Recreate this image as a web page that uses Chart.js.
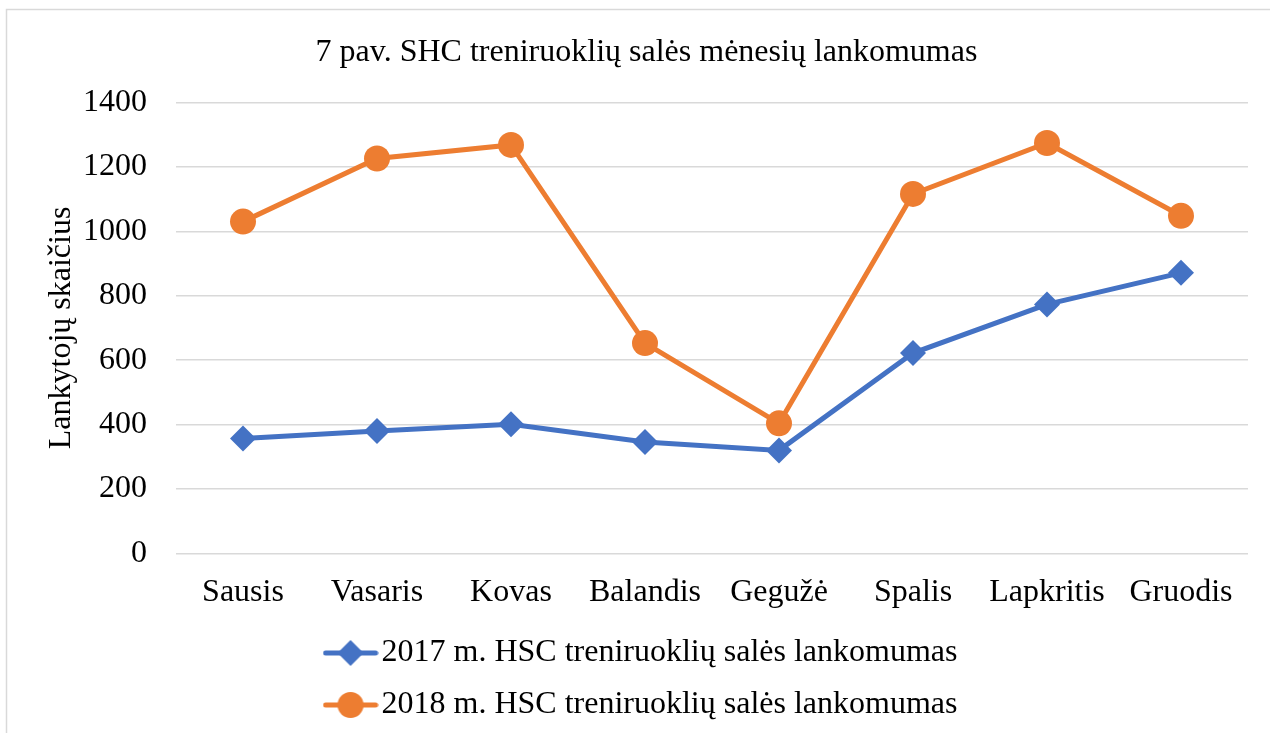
<!DOCTYPE html>
<html><head><meta charset="utf-8">
<script src="https://cdn.jsdelivr.net/npm/chart.js@4/dist/chart.umd.min.js"></script>
<style>html,body{margin:0;padding:0;background:#fff;}</style>
</head><body>
<canvas id="c" width="1270" height="733"></canvas>
<script>
const categories = ['Sausis','Vasaris','Kovas','Balandis','Gegužė','Spalis','Lapkritis','Gruodis'];
const visits2017 = [357,380,401,346,320,622,773,871];
const visits2018 = [1030,1226,1268,653,404,1116,1274,1048];
const yTicks = [0,200,400,600,800,1000,1200,1400];
const seriesNames = ['2017 m. HSC treniruoklių salės lankomumas','2018 m. HSC treniruoklių salės lankomumas'];
const chartTitle = '7 pav. SHC treniruoklių salės mėnesių lankomumas';
const yTitle = 'Lankytojų skaičius';

const FAM = '"Liberation Serif", "Times New Roman", serif';
const BLUE = '#4472C4', ORANGE = '#ED7D31';

function legendIcon(color, style){
  const c = document.createElement('canvas'); c.width = 56; c.height = 30;
  const g = c.getContext('2d');
  g.strokeStyle = color; g.lineWidth = 5; g.lineCap = 'round';
  g.beginPath(); g.moveTo(3,15); g.lineTo(53,15); g.stroke();
  g.fillStyle = color; g.beginPath();
  if (style === 'circle') { g.arc(28,15,13,0,Math.PI*2); }
  else { g.moveTo(28,2); g.lineTo(41,15); g.lineTo(28,28); g.lineTo(15,15); g.closePath(); }
  g.fill();
  return c;
}

const borderPlugin = {
  id: 'frame',
  beforeDraw(chart){
    const g = chart.ctx; g.save();
    g.fillStyle = '#fff'; g.fillRect(0,0,chart.width,chart.height);
    g.strokeStyle = '#d9d9d9'; g.lineWidth = 1.5;
    g.strokeRect(6.5, 9.5, 1400, 900);
    g.restore();
  }
};

new Chart(document.getElementById('c'), {
  type: 'line',
  data: {
    labels: categories,
    datasets: [
      {label: seriesNames[0], data: visits2017, borderColor: BLUE, backgroundColor: BLUE, borderWidth: 5,
       pointStyle: 'rectRot', pointRadius: 13, pointHoverRadius: 13, pointBorderWidth: 0, order: 1, tension: 0},
      {label: seriesNames[1], data: visits2018, borderColor: ORANGE, backgroundColor: ORANGE, borderWidth: 5,
       pointStyle: 'circle', pointRadius: 13, pointHoverRadius: 13, pointBorderWidth: 0, order: 0, tension: 0}
    ]
  },
  options: {
    responsive: false, animation: false, devicePixelRatio: 1, events: [],
    layout: {padding: {left: 45, right: 22, top: 0, bottom: 2}},
    plugins: {
      title: {display: true, text: chartTitle, color: '#000',
              font: {family: FAM, size: 32, weight: 'normal'}, padding: {top: 33, bottom: 31}},
      legend: {position: 'bottom',
        labels: {usePointStyle: true, pointStyleWidth: 30, padding: 20, color: '#000',
          font: {family: FAM, size: 32, weight: 'normal'},
          generateLabels(chart){
            return chart.data.datasets.map((ds, i) => ({
              text: ds.label, datasetIndex: i, fillStyle: ds.backgroundColor, strokeStyle: ds.borderColor,
              lineWidth: 0, hidden: false,
              pointStyle: legendIcon(ds.borderColor, ds.pointStyle === 'circle' ? 'circle' : 'diamond')
            }));
          }}},
      tooltip: {enabled: false}
    },
    scales: {
      x: {offset: true, grid: {display: false}, border: {display: false},
          ticks: {color: '#000', font: {family: FAM, size: 32}, padding: 12, maxRotation: 0, autoSkip: false},
          afterFit(s){ s.height = 63.5; }},
      y: {min: 0, max: 1400,
          afterBuildTicks(s){ s.ticks = yTicks.map(v => ({value: v})); },
          grid: {color: '#d9d9d9', lineWidth: 1.5, drawTicks: false}, border: {display: false},
          ticks: {color: '#000', font: {family: FAM, size: 32}, padding: 29, callback: v => String(v)},
          title: {display: true, text: yTitle, color: '#000', font: {family: FAM, size: 32, weight: 'normal', lineHeight: 1},
                  padding: {top: 1, bottom: 0}},
          afterFit(s){ s.width = 131; }}
    }
  },
  plugins: [borderPlugin]
});
</script>
</body></html>
